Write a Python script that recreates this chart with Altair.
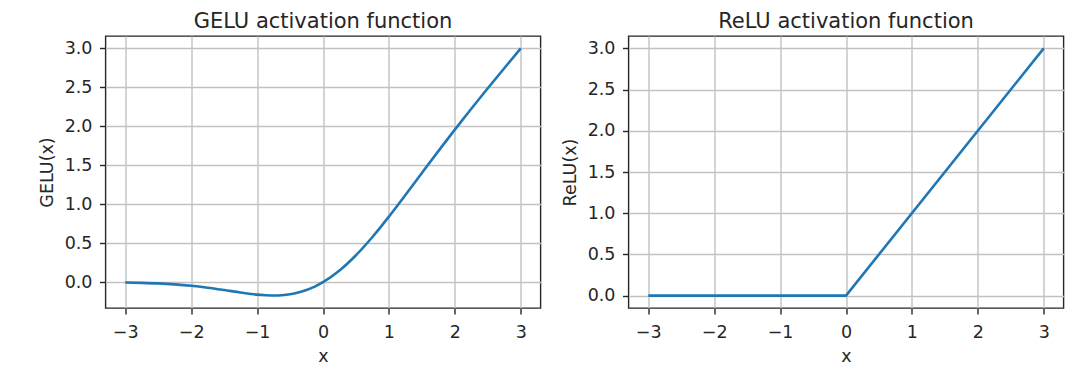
import altair as alt
import pandas as pd

# GELU curve, values
gelu_x = [-3.0, -2.75, -2.5, -2.25, -2.0, -1.75, -1.5, -1.25, -1.0, -0.875,
          -0.75, -0.625, -0.5, -0.375, -0.25, -0.125, 0.0, 0.25, 0.5, 0.75,
          1.0, 1.25, 1.5, 1.75, 2.0, 2.25, 2.5, 2.75, 3.0]
gelu_y = [-0.004, -0.008, -0.015, -0.027, -0.045, -0.070, -0.100, -0.132, -0.159, -0.166,
          -0.170, -0.166, -0.154, -0.132, -0.100, -0.056, 0.0, 0.150, 0.346, 0.580,
          0.841, 1.118, 1.400, 1.680, 1.955, 2.223, 2.485, 2.742, 2.996]

# ReLU curve
relu_x = [-3.0, 0.0, 3.0]
relu_y = [0.0, 0.0, 3.0]

x_ticks = [-3, -2, -1, 0, 1, 2, 3]
y_ticks = [0.0, 0.5, 1.0, 1.5, 2.0, 2.5, 3.0]

gelu_df = pd.DataFrame({"x": gelu_x, "y": gelu_y})
relu_df = pd.DataFrame({"x": relu_x, "y": relu_y})

FONT = "DejaVu Sans"
TXT = "#262626"
LINE = "#1f77b4"

def panel(df, title, ylabel, ydomain, interp):
    xax = alt.Axis(values=x_ticks, format="d", title="x", grid=True)
    yax = alt.Axis(values=y_ticks, format=".1f", title=ylabel, grid=True)
    return (
        alt.Chart(df, title=alt.Title(title))
        .mark_line(color=LINE, strokeWidth=2.6, interpolate=interp, clip=True)
        .encode(
            x=alt.X("x:Q", scale=alt.Scale(domain=[-3.3, 3.3], nice=False, zero=False), axis=xax),
            y=alt.Y("y:Q", scale=alt.Scale(domain=ydomain, nice=False, zero=False), axis=yax),
        )
        .properties(width=435, height=272)
    )

left = panel(gelu_df, "GELU activation function", "GELU(x)", [-0.33, 3.155], "monotone")
right = panel(relu_df, "ReLU activation function", "ReLU(x)", [-0.15, 3.15], "linear")

chart = (
    alt.hconcat(left, right, spacing=88, bounds="flush")
    .properties(
        autosize=alt.AutoSizeParams(type="none"),
        padding={"left": 97.5, "top": 28, "right": 966.5, "bottom": 330},
    )
    .configure_view(stroke=TXT, strokeWidth=1.4)
    .configure_axis(
        domain=False,
        labelFont=FONT,
        labelFontSize=17.5,
        labelColor=TXT,
        titleFont=FONT,
        titleFontSize=17.5,
        titleFontWeight="normal",
        titleColor=TXT,
        tickColor=TXT,
        tickWidth=1.4,
        tickSize=6,
        gridColor="#c2c2c2",
        gridWidth=1.4,
    )
    .configure_axisX(labelPadding=9, titlePadding=7)
    .configure_axisY(labelPadding=7.5, titlePadding=8)
    .configure_title(
        font=FONT,
        fontSize=21,
        fontWeight="normal",
        color=TXT,
        anchor="middle",
        frame="group",
        baseline="bottom",
        offset=4,
    )
)

chart.save("out.html", embed_options={"renderer": "svg", "actions": False})
